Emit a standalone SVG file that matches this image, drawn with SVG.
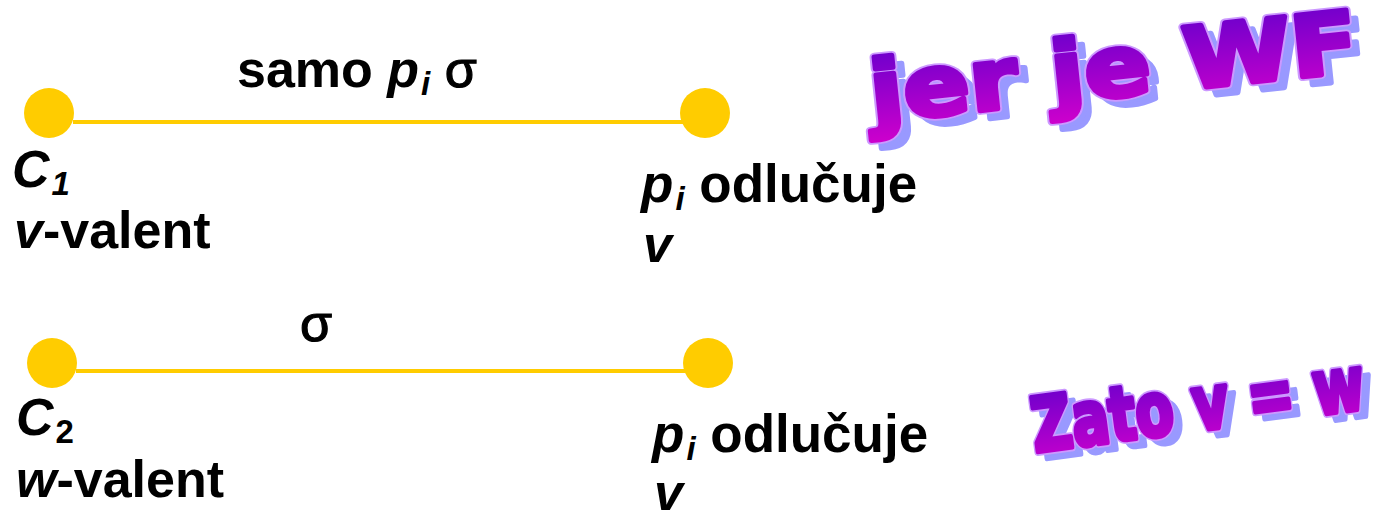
<svg xmlns="http://www.w3.org/2000/svg" width="1379" height="515" viewBox="0 0 1379 515">
<style>
.t{font-family:"Liberation Sans",Arial,sans-serif;font-weight:bold;font-size:52px;fill:#000}
.w{font-size:53px}
.i{font-style:italic}
.sub{font-size:33px}
.sig{font-weight:normal;stroke:#000;stroke-width:1.2}
.dot{fill:#FFCC00}
.bond{stroke:#FFCC00;stroke-width:4;fill:none}
.wa{font-family:"DejaVu Sans",sans-serif;font-weight:bold;stroke-linejoin:round}
.sh{fill:#9999FF;stroke:#9999FF;stroke-width:5}
.ol{fill:#CC99FF;stroke:#CC99FF;stroke-width:8.5}
.fg{fill:url(#wag);stroke:url(#wag);stroke-width:5}
</style>
<defs>
<linearGradient id="wag" x1="0" y1="0" x2="0" y2="1">
<stop offset="0" stop-color="#6600CC"/>
<stop offset="1" stop-color="#CC00CC"/>
</linearGradient>
</defs>
<g id="connectors">
<line class="bond" x1="73" y1="122" x2="685" y2="122"/>
<line class="bond" x1="76" y1="371" x2="688" y2="371"/>
</g>
<g id="c1">
<circle class="dot" cx="49" cy="113" r="25"/>
<text class="t" x="12" y="187"><tspan class="i">C</tspan><tspan class="sub i" dx="2" dy="8">1</tspan></text>
<text class="t" x="14" y="248"><tspan class="i">v</tspan>-valent</text>
</g>
<g id="p1">
<circle class="dot" cx="705" cy="113" r="25"/>
<text class="t w" x="641" y="202"><tspan class="i">p</tspan><tspan class="sub i" dx="2" dy="8">i</tspan><tspan dy="-8"> odlučuje</tspan></text>
<text class="t i" x="643" y="262">v</text>
</g>
<g id="label1">
<text class="t" x="237" y="87">samo <tspan class="i">p</tspan><tspan class="sub i" dx="2" dy="8">i</tspan><tspan class="sig" dy="-8"> σ</tspan></text>
</g>
<g id="c2">
<circle class="dot" cx="52" cy="363" r="25"/>
<text class="t" x="16" y="435"><tspan class="i">C</tspan><tspan class="sub" dx="2" dy="8">2</tspan></text>
<text class="t" x="16" y="497"><tspan class="i">w</tspan>-valent</text>
</g>
<g id="p2">
<circle class="dot" cx="708" cy="363" r="25"/>
<text class="t w" x="652" y="452"><tspan class="i">p</tspan><tspan class="sub i" dx="2" dy="8">i</tspan><tspan dy="-8"> odlučuje</tspan></text>
<text class="t i" x="654" y="510">v</text>
</g>
<g id="label2">
<text class="t sig" x="300" y="341">σ</text>
</g>
<g id="wordart1" transform="translate(873,122) rotate(-6)">
<text class="wa sh" x="9" y="9" font-size="85" textLength="490" lengthAdjust="spacingAndGlyphs">jer je WF</text>
<text class="wa ol" x="0" y="0" font-size="85" textLength="490" lengthAdjust="spacingAndGlyphs">jer je WF</text>
<text class="wa fg" x="0" y="0" font-size="85" textLength="490" lengthAdjust="spacingAndGlyphs">jer je WF</text>
</g>
<g id="wordart2" transform="translate(1035,452) rotate(-7.5)">
<text class="wa sh" x="8" y="8" font-size="75" textLength="335" lengthAdjust="spacingAndGlyphs">Zato v = w</text>
<text class="wa ol" x="0" y="0" font-size="75" textLength="335" lengthAdjust="spacingAndGlyphs">Zato v = w</text>
<text class="wa fg" x="0" y="0" font-size="75" textLength="335" lengthAdjust="spacingAndGlyphs">Zato v = w</text>
</g>
</svg>
